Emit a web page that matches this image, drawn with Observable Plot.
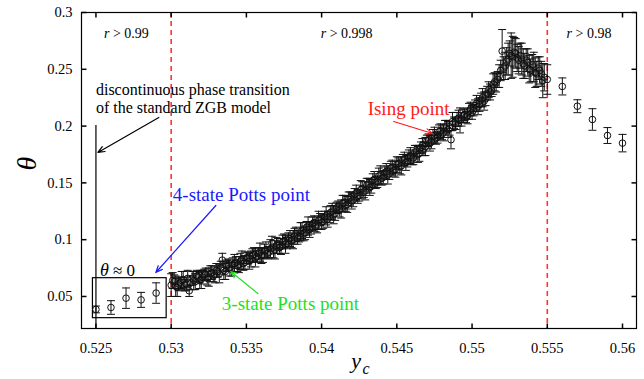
<!DOCTYPE html>
<html><head><meta charset="utf-8">
<script src="https://cdn.jsdelivr.net/npm/d3@7"></script>
<script src="https://cdn.jsdelivr.net/npm/@observablehq/plot@0.6"></script>
<style>
body{margin:0;background:#fff}
svg, svg text { font-family: "Liberation Serif", "Times New Roman", serif !important; }
</style>
</head><body><div id="chart"></div>
<script>
// ---- data ----
const xTicks = [0.525, 0.53, 0.535, 0.54, 0.545, 0.55, 0.555, 0.56];
const yTicks = [0.05, 0.1, 0.15, 0.2, 0.25, 0.3];

// points inside the "theta ~ 0" box
const lowX = [0.525, 0.526, 0.527, 0.528, 0.529];
const lowT = [0.0386, 0.0403, 0.0485, 0.047, 0.053];
const lowE = [0.003, 0.006, 0.009, 0.0066, 0.009];

// dense series r > 0.998 (even grid)
const bandX = [0.5300,0.5302,0.5304,0.5306,0.5308,0.5310,0.5312,0.5314,0.5316,0.5318,
0.5320,0.5322,0.5324,0.5326,0.5328,0.5330,0.5332,0.5334,0.5336,0.5338,
0.5340,0.5342,0.5344,0.5346,0.5348,0.5350,0.5352,0.5354,0.5356,0.5358,
0.5360,0.5362,0.5364,0.5366,0.5368,0.5370,0.5372,0.5374,0.5376,0.5378,
0.5380,0.5382,0.5384,0.5386,0.5388,0.5390,0.5392,0.5394,0.5396,0.5398,
0.5400,0.5402,0.5404,0.5406,0.5408,0.5410,0.5412,0.5414,0.5416,0.5418,
0.5420,0.5422,0.5424,0.5426,0.5428,0.5430,0.5432,0.5434,0.5436,0.5438,
0.5440,0.5442,0.5444,0.5446,0.5448,0.5450,0.5452,0.5454,0.5456,0.5458,
0.5460,0.5462,0.5464,0.5466,0.5468,0.5470,0.5472,0.5474,0.5476,0.5478,
0.5480,0.5482,0.5484,0.5486,0.5488,0.5490,0.5492,0.5494,0.5496,0.5498,
0.5500,0.5502,0.5504,0.5506,0.5508,0.5510,0.5512,0.5514,0.5516,0.5518,
0.5520,0.5522,0.5524,0.5526,0.5528,0.5530,0.5532,0.5534,0.5536,0.5538,
0.5540,0.5542,0.5544,0.5546,0.5548];
const bandT = [0.060,0.063,0.058,0.062,0.065,0.061,0.055,0.066,0.063,0.067,
0.065,0.069,0.066,0.070,0.068,0.073,0.070,0.082,0.072,0.078,
0.074,0.079,0.077,0.081,0.079,0.084,0.081,0.086,0.084,0.088,
0.086,0.090,0.088,0.092,0.090,0.095,0.093,0.098,0.096,0.101,
0.099,0.103,0.101,0.107,0.105,0.111,0.109,0.114,0.112,0.117,
0.115,0.120,0.118,0.124,0.122,0.128,0.126,0.132,0.130,0.136,
0.134,0.140,0.138,0.144,0.142,0.148,0.146,0.152,0.150,0.156,
0.154,0.159,0.157,0.163,0.161,0.166,0.164,0.170,0.168,0.173,
0.171,0.177,0.175,0.181,0.180,0.187,0.185,0.191,0.189,0.195,
0.193,0.199,0.197,0.188,0.203,0.206,0.205,0.209,0.208,0.213,
0.212,0.218,0.217,0.223,0.222,0.229,0.230,0.237,0.238,0.244,
0.266,0.253,0.259,0.262,0.265,0.260,0.262,0.255,0.258,0.250,
0.254,0.247,0.251,0.246,0.243];
const bandE = [0.010,0.006,0.008,0.005,0.007,0.006,0.005,0.006,0.007,0.005,
0.008,0.005,0.006,0.007,0.005,0.006,0.008,0.006,0.007,0.005,
0.006,0.008,0.005,0.007,0.006,0.005,0.007,0.006,0.008,0.005,
0.007,0.006,0.005,0.008,0.006,0.007,0.005,0.006,0.008,0.005,
0.006,0.007,0.005,0.008,0.006,0.005,0.007,0.006,0.005,0.008,
0.006,0.005,0.007,0.006,0.008,0.005,0.006,0.007,0.005,0.006,
0.007,0.005,0.006,0.008,0.005,0.006,0.007,0.006,0.005,0.007,
0.006,0.005,0.008,0.006,0.005,0.007,0.006,0.005,0.007,0.006,
0.005,0.006,0.007,0.005,0.006,0.005,0.007,0.006,0.005,0.006,
0.005,0.006,0.007,0.008,0.005,0.006,0.011,0.006,0.005,0.007,
0.006,0.005,0.007,0.006,0.008,0.006,0.007,0.009,0.008,0.010,
0.019,0.012,0.014,0.020,0.013,0.012,0.011,0.013,0.010,0.012,
0.009,0.013,0.010,0.011,0.012];

// dense series r > 0.998 (odd grid)
const band2X = [0.5301,0.5303,0.5305,0.5307,0.5309,0.5311,0.5313,0.5315,0.5317,0.5319,
0.5321,0.5323,0.5325,0.5327,0.5329,0.5331,0.5333,0.5335,0.5337,0.5339,
0.5341,0.5343,0.5345,0.5347,0.5349,0.5351,0.5353,0.5355,0.5357,0.5359,
0.5361,0.5363,0.5365,0.5367,0.5369,0.5371,0.5373,0.5375,0.5377,0.5379,
0.5381,0.5383,0.5385,0.5387,0.5389,0.5391,0.5393,0.5395,0.5397,0.5399,
0.5401,0.5403,0.5405,0.5407,0.5409,0.5411,0.5413,0.5415,0.5417,0.5419,
0.5421,0.5423,0.5425,0.5427,0.5429,0.5431,0.5433,0.5435,0.5437,0.5439,
0.5441,0.5443,0.5445,0.5447,0.5449,0.5451,0.5453,0.5455,0.5457,0.5459,
0.5461,0.5463,0.5465,0.5467,0.5469,0.5471,0.5473,0.5475,0.5477,0.5479,
0.5481,0.5483,0.5485,0.5487,0.5489,0.5491,0.5493,0.5495,0.5497,0.5499,
0.5501,0.5503,0.5505,0.5507,0.5509,0.5511,0.5513,0.5515,0.5517,0.5519,
0.5521,0.5523,0.5525,0.5527,0.5529,0.5531,0.5533,0.5535,0.5537,0.5539,
0.5541,0.5543,0.5545,0.5547];
const band2T = [0.064,0.059,0.061,0.064,0.060,0.066,0.062,0.064,0.068,0.064,
0.067,0.070,0.067,0.071,0.069,0.072,0.075,0.073,0.077,0.075,
0.078,0.080,0.078,0.082,0.080,0.084,0.083,0.087,0.085,0.089,
0.086,0.091,0.089,0.097,0.091,0.096,0.094,0.099,0.097,0.101,
0.100,0.105,0.103,0.108,0.106,0.112,0.110,0.115,0.113,0.118,
0.116,0.121,0.120,0.125,0.123,0.129,0.127,0.133,0.131,0.137,
0.135,0.141,0.139,0.145,0.143,0.149,0.147,0.153,0.151,0.157,
0.155,0.160,0.158,0.164,0.162,0.167,0.165,0.171,0.169,0.174,
0.172,0.178,0.176,0.183,0.182,0.188,0.186,0.192,0.190,0.196,
0.194,0.200,0.198,0.204,0.202,0.207,0.206,0.210,0.209,0.215,
0.214,0.220,0.219,0.225,0.224,0.232,0.231,0.239,0.241,0.249,
0.251,0.257,0.264,0.261,0.264,0.258,0.259,0.253,0.256,0.249,
0.252,0.246,0.249,0.240];
const band2E = [0.007,0.009,0.006,0.008,0.005,0.007,0.006,0.008,0.005,0.007,
0.006,0.005,0.008,0.006,0.007,0.005,0.006,0.008,0.005,0.007,
0.006,0.005,0.007,0.008,0.006,0.005,0.007,0.006,0.005,0.008,
0.006,0.007,0.005,0.006,0.008,0.005,0.007,0.006,0.005,0.007,
0.008,0.006,0.005,0.007,0.006,0.008,0.005,0.006,0.007,0.005,
0.006,0.008,0.005,0.007,0.006,0.005,0.008,0.006,0.007,0.005,
0.006,0.007,0.005,0.006,0.008,0.005,0.006,0.007,0.005,0.008,
0.006,0.007,0.005,0.006,0.007,0.005,0.008,0.006,0.005,0.007,
0.006,0.005,0.007,0.006,0.008,0.005,0.006,0.007,0.005,0.006,
0.007,0.005,0.006,0.008,0.005,0.007,0.006,0.005,0.007,0.006,
0.005,0.007,0.006,0.008,0.006,0.007,0.005,0.008,0.007,0.009,
0.010,0.012,0.011,0.018,0.013,0.012,0.014,0.011,0.012,0.010,
0.013,0.011,0.012,0.015];

// sparse series r > 0.98
const highX = [0.555, 0.556, 0.557, 0.558, 0.559, 0.560];
const highT = [0.241, 0.2349, 0.2175, 0.2058, 0.1917, 0.185];
const highE = [0.013, 0.0075, 0.0057, 0.0095, 0.007, 0.0077];

// annotations
const dashedX = [0.53, 0.555];
const zgbX = 0.525, zgbTop = 0.2005;
const boxX = [0.5248, 0.5297], boxY = [0.0309, 0.0661];
const arrows = [
  {x1: 0.52918, y1: 0.2076, x2: 0.52513, y2: 0.1768, c: "#000000"},
  {x1: 0.53297, y1: 0.1301, x2: 0.52898, y2: 0.0711, c: "#1a1aff"},
  {x1: 0.53576, y1: 0.0526, x2: 0.53396, y2: 0.0720, c: "#1ee01e"},
  {x1: 0.54479, y1: 0.2040, x2: 0.54738, y2: 0.1935, c: "#ff1a1a"}
];
const labels = [
  {x: 0.52500, y: 0.2113, t: "discontinuous phase transition\nof the standard ZGB model", c: "#000", s: 16},
  {x: 0.53011, y: 0.1340, t: "4-state Potts point", c: "#1a1aff", s: 19},
  {x: 0.53337, y: 0.0385, t: "3-state Potts point", c: "#1ee01e", s: 19},
  {x: 0.54306, y: 0.2095, t: "Ising point", c: "#ff1a1a", s: 19}
];
const rLabels = [
  {x: 0.52553, y: 0.2815, t: "> 0.99"},
  {x: 0.53994, y: 0.2815, t: "> 0.998"},
  {x: 0.55628, y: 0.2815, t: "> 0.98"}
];
const thetaZero = {x: 0.52527, y: 0.0680};

// ---- build table ----
const pts = [];
[[lowX, lowT, lowE], [bandX, bandT, bandE], [band2X, band2T, band2E], [highX, highT, highE]].forEach(([X, T, E]) =>
  X.forEach((x, i) => { if (T[i] != null) pts.push({x, t: T[i], e: E[i]}); }));

const cap = {draw(ctx) { ctx.moveTo(-4, 0); ctx.lineTo(4, 0); }};
const tickUp = {draw(ctx) { ctx.moveTo(0, 0); ctx.lineTo(0, -5); }};
const tickDown = {draw(ctx) { ctx.moveTo(0, 0); ctx.lineTo(0, 5); }};
const tickRight = {draw(ctx) { ctx.moveTo(0, 0); ctx.lineTo(5, 0); }};
const tickLeft = {draw(ctx) { ctx.moveTo(0, 0); ctx.lineTo(-5, 0); }};

const SERIF = "Liberation Serif";

const chart = Plot.plot({
  width: 644, height: 379,
  marginLeft: 81, marginRight: 8, marginTop: 12, marginBottom: 51,
  style: "font-family: 'Liberation Serif', 'Times New Roman', serif; font-size: 14px; background: #fff; color: #000;",
  x: {domain: [0.52404, 0.56093]},
  y: {domain: [0.0218, 0.3]},
  marks: [
    Plot.ruleX(dashedX, {stroke: "#ff3333", strokeWidth: 1.6, strokeDasharray: "5,4"}),
    Plot.ruleX([zgbX], {y1: 0.0218, y2: zgbTop, stroke: "#000", strokeWidth: 1.2}),
    Plot.rect([0], {x1: boxX[0], x2: boxX[1], y1: boxY[0], y2: boxY[1], fill: "none", stroke: "#000", strokeWidth: 1.2}),
    Plot.ruleX(pts, {x: "x", y1: d => d.t - d.e, y2: d => d.t + d.e, stroke: "#111", strokeWidth: 1}),
    Plot.dot(pts, {x: "x", y: d => d.t - d.e, symbol: cap, fill: "none", stroke: "#111", strokeWidth: 1}),
    Plot.dot(pts, {x: "x", y: d => d.t + d.e, symbol: cap, fill: "none", stroke: "#111", strokeWidth: 1}),
    Plot.dot(pts, {x: "x", y: "t", r: 3.3, fill: "none", stroke: "#111", strokeWidth: 1}),
    Plot.arrow(arrows, {x1: "x1", y1: "y1", x2: "x2", y2: "y2", stroke: "c", strokeWidth: 1.2, headLength: 9, headAngle: 45}),
    Plot.text(labels, {x: "x", y: "y", text: "t", fill: "c", fontSize: "s", fontFamily: SERIF, textAnchor: "start", lineAnchor: "bottom", lineHeight: 1.15}),
    Plot.text(rLabels, {x: "x", y: "y", text: d => "r", fontFamily: SERIF, fontStyle: "italic", fontSize: 14, textAnchor: "start"}),
    Plot.text(rLabels, {x: "x", y: "y", text: "t", fontFamily: SERIF, fontSize: 14, textAnchor: "start", dx: 9}),
    Plot.text([thetaZero], {x: "x", y: "y", text: d => "θ", fontFamily: SERIF, fontStyle: "italic", fontSize: 18, textAnchor: "start", lineAnchor: "bottom"}),
    Plot.text([thetaZero], {x: "x", y: "y", text: d => "≈ 0", fontFamily: SERIF, fontSize: 17, textAnchor: "start", lineAnchor: "bottom", dx: 13}),
    Plot.frame({stroke: "#000", strokeWidth: 1.2}),
    Plot.dot(xTicks, {x: d => d, frameAnchor: "bottom", symbol: tickUp, stroke: "#000"}),
    Plot.dot(xTicks, {x: d => d, frameAnchor: "top", symbol: tickDown, stroke: "#000"}),
    Plot.dot(yTicks, {y: d => d, frameAnchor: "left", symbol: tickRight, stroke: "#000"}),
    Plot.dot(yTicks, {y: d => d, frameAnchor: "right", symbol: tickLeft, stroke: "#000"}),
    Plot.axisX({ticks: xTicks, tickSize: 0, tickPadding: 14, tickFormat: d => String(d), label: null, fontSize: 14.5, fontFamily: SERIF}),
    Plot.axisY({ticks: yTicks, tickSize: 0, tickPadding: 9, tickFormat: d => String(d), label: null, fontSize: 14.5, fontFamily: SERIF}),
    Plot.text([0], {frameAnchor: "left", text: d => "θ", fontFamily: SERIF, fontStyle: "italic", fontSize: 28, rotate: -90, dx: -54}),
    Plot.text([0], {frameAnchor: "bottom", text: d => "y", fontFamily: SERIF, fontStyle: "italic", fontSize: 22, dy: 39, dx: -3}),
    Plot.text([0], {frameAnchor: "bottom", text: d => "c", fontFamily: SERIF, fontStyle: "italic", fontSize: 16, dy: 45, dx: 7})
  ]
});
document.getElementById("chart").appendChild(chart);
</script>
</body></html>
